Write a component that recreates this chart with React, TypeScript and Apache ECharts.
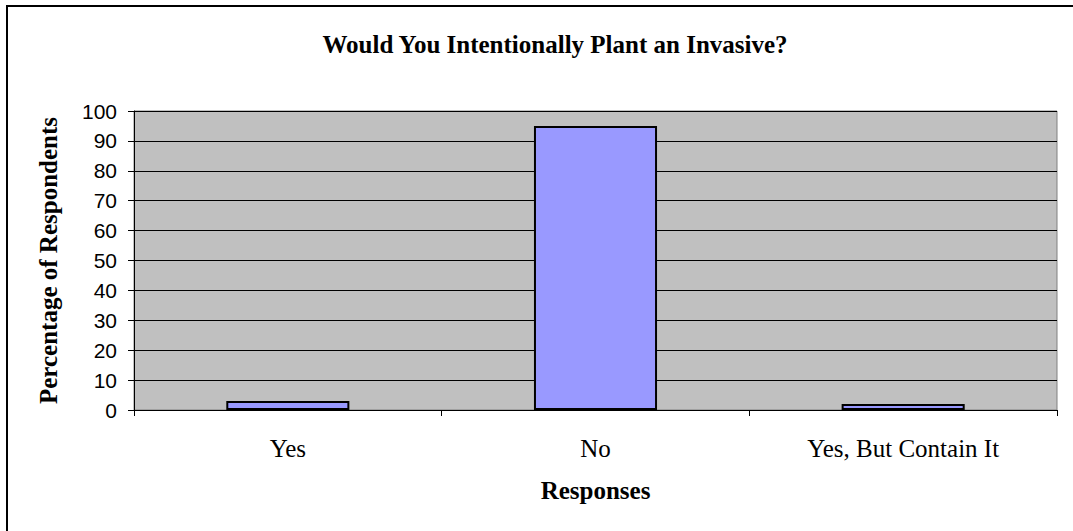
import React, { useEffect, useRef } from "react";
import * as echarts from "echarts";

const categories = ["Yes", "No", "Yes, But Contain It"];
const values = [3, 95, 2];
const yTicks = { min: 0, max: 100, interval: 10 };
const titleText = "Would You Intentionally Plant an Invasive?";
const xName = "Responses";
const yName = "Percentage of Respondents";

export default function App() {
  const ref = useRef<HTMLDivElement>(null);
  useEffect(() => {
    const chart = echarts.init(ref.current!, null, { renderer: "svg" });
    const serif = "'Liberation Serif', 'Times New Roman', serif";
    const sans = "'Liberation Sans', Arial, sans-serif";
    chart.setOption({
      animation: false,
      backgroundColor: "#ffffff",
      title: {
        text: titleText,
        left: 550,
        top: 27,
        textAlign: "center",
        textStyle: { fontFamily: serif, fontWeight: "bold", fontSize: 25, color: "#000" },
      },
      graphic: [
        {
          type: "rect",
          shape: { x: 7, y: 6, width: 1200, height: 700 },
          style: { fill: "none", stroke: "#000", lineWidth: 2 },
          silent: true,
        },
      ],
      grid: { left: 134, right: 16, top: 111, bottom: 121, backgroundColor: "#C0C0C0", show: true, borderColor: "#808080", borderWidth: 1 },
      xAxis: {
        type: "category",
        data: categories,
        name: xName,
        nameLocation: "middle",
        nameGap: 68,
        nameTextStyle: { fontFamily: serif, fontWeight: "bold", fontSize: 25, color: "#000" },
        axisLine: { show: true, lineStyle: { color: "#000", width: 1 } },
        axisTick: { show: true, length: 6, lineStyle: { color: "#000" } },
        axisLabel: { fontFamily: serif, fontSize: 25, color: "#000", margin: 26 },
        splitLine: { show: false },
      },
      yAxis: {
        type: "value",
        min: yTicks.min,
        max: yTicks.max,
        interval: yTicks.interval,
        name: yName,
        nameLocation: "middle",
        nameGap: 73,
        nameTextStyle: { fontFamily: serif, fontWeight: "bold", fontSize: 25, color: "#000" },
        axisLine: { show: true, lineStyle: { color: "#000", width: 1 } },
        axisTick: { show: true, length: 6, lineStyle: { color: "#000" } },
        axisLabel: { fontFamily: sans, fontSize: 21, color: "#000", margin: 17 },
        splitLine: { show: true, lineStyle: { color: "#000", width: 1 } },
      },
      series: [
        {
          type: "bar",
          data: values,
          barWidth: "40%",
          itemStyle: { color: "#9999FF", borderColor: "#000", borderWidth: 2 },
        },
      ],
    });
    return () => chart.dispose();
  }, []);
  return <div ref={ref} style={{ position: "absolute", left: 0, top: 0, width: 1073, height: 531 }} />;
}
